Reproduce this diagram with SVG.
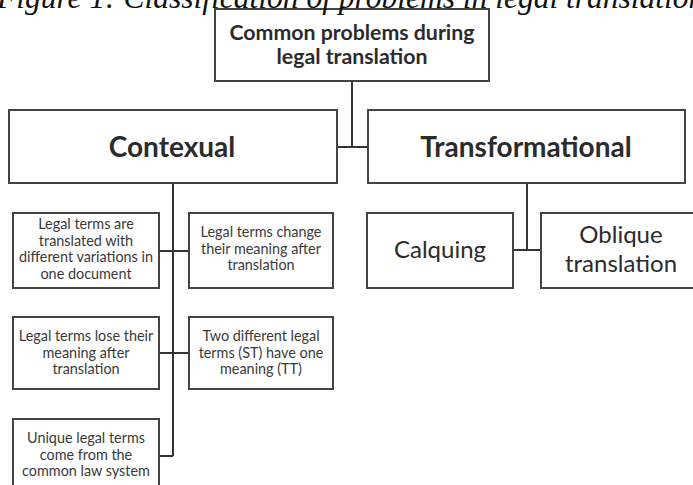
<svg xmlns="http://www.w3.org/2000/svg" width="693" height="485" viewBox="0 0 693 485">
<style>
.box{fill:#fff;stroke:#444;stroke-width:2}
.ln{fill:none;stroke:#333;stroke-width:2}
.t{font-family:Lato,"Open Sans","Liberation Sans",sans-serif;fill:#2b2b2b;text-anchor:middle}
.b{font-weight:bold}
.s{font-size:14.4px;fill:#3a3a3a}
.cap{font-family:"Liberation Serif","Times New Roman",serif;font-style:italic;font-size:31.5px;fill:#111}
</style>
<rect width="693" height="485" fill="#fff"/>
<g id="connectors">
<path class="ln" d="M352 81V147M337 147H368"/>
<path class="ln" d="M173 183V456M159 251H189M159 353H189M159 456H173"/>
<path class="ln" d="M527 183V250M513 250H541"/>
</g>
<g id="root">
<rect class="box" x="215" y="9" width="274" height="72"/>
<text class="t b" x="352" y="40" font-size="21.3">Common problems during</text>
<text class="t b" x="352" y="64" font-size="21.3">legal translation</text>
</g>
<text class="cap" x="-3" y="8">Figure 1: Classification of problems in legal translation</text>
<g id="contexual">
<rect class="box" x="9" y="110" width="328" height="73"/>
<text class="t b" x="172" y="157" font-size="28">Contexual</text>
</g>
<g id="transformational">
<rect class="box" x="368" y="110" width="317" height="73"/>
<text class="t b" x="526" y="157" font-size="28">Transformational</text>
</g>
<g id="c1">
<rect class="box" x="13" y="213" width="146" height="75"/>
<text class="t s" x="86"><tspan x="86" y="229">Legal terms are</tspan><tspan x="86" y="245.5">translated with</tspan><tspan x="86" y="262">different variations in</tspan><tspan x="86" y="278.5">one document</tspan></text>
</g>
<g id="c2">
<rect class="box" x="189" y="213" width="144" height="75"/>
<text class="t s" x="261"><tspan x="261" y="237">Legal terms change</tspan><tspan x="261" y="253.5">their meaning after</tspan><tspan x="261" y="270">translation</tspan></text>
</g>
<g id="c3">
<rect class="box" x="13" y="317" width="146" height="72"/>
<text class="t s" x="86"><tspan x="86" y="341">Legal terms lose their</tspan><tspan x="86" y="357.5">meaning after</tspan><tspan x="86" y="374">translation</tspan></text>
</g>
<g id="c4">
<rect class="box" x="189" y="317" width="144" height="72"/>
<text class="t s" x="261"><tspan x="261" y="341">Two different legal</tspan><tspan x="261" y="357.5">terms (ST) have one</tspan><tspan x="261" y="374">meaning (TT)</tspan></text>
</g>
<g id="c5">
<rect class="box" x="13" y="419" width="146" height="80"/>
<text class="t s" x="86"><tspan x="86" y="443">Unique legal terms</tspan><tspan x="86" y="459.5">come from the</tspan><tspan x="86" y="476">common law system</tspan></text>
</g>
<g id="calquing">
<rect class="box" x="367" y="213" width="146" height="75"/>
<text class="t" x="440" y="258" font-size="24">Calquing</text>
</g>
<g id="oblique">
<rect class="box" x="541" y="213" width="160" height="75"/>
<text class="t" x="621" y="243" font-size="24"><tspan x="621" y="243">Oblique</tspan><tspan x="621" y="272">translation</tspan></text>
</g>
</svg>
